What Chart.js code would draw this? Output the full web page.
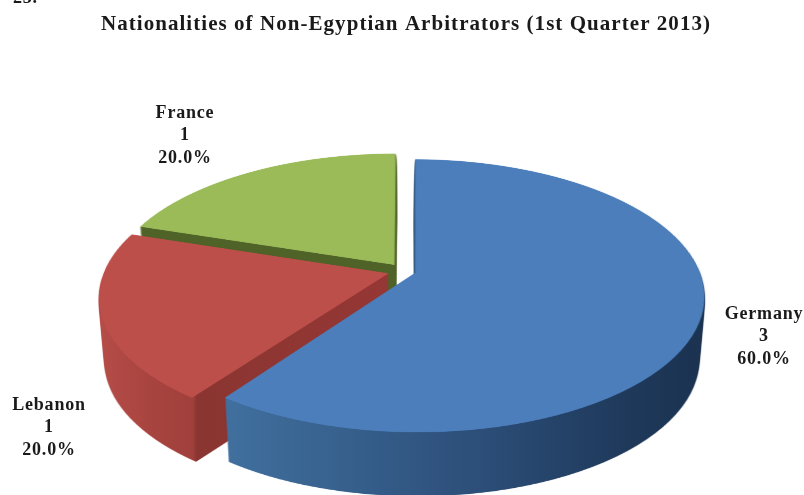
<!DOCTYPE html>
<html>
<head>
<meta charset="utf-8">
<style>html,body{margin:0;padding:0;background:#fff}canvas{display:block}</style>
<script src="https://cdn.jsdelivr.net/npm/chart.js@4"></script>
</head>
<body>
<canvas id="c" width="804" height="495"></canvas>
<script>
const categories = ["Germany", "Lebanon", "France"];
const counts = [3, 1, 1];
const explode = [35, 46, 46];
const topColors = ["#4c7ebb", "#bd4f4b", "#9bbb59"];
const titleText = "Nationalities of Non-Egyptian Arbitrators (1st Quarter 2013)";
const strayText = "23.";
const labelAnchors = [[764, 314], [49, 405], [185, 113]];

const sideStops = [
  [[220, "#41709f"], [330, "#38628f"], [480, "#2c4e78"], [620, "#1f3a5c"], [705, "#1b3250"]],
  [[100, "#b54c48"], [150, "#a8443f"], [193, "#a0403c"], [197, "#8a3531"], [390, "#953735"]],
  [[130, "#4f6228"], [400, "#4f6228"]]
];

// Perspective of the pie plane on screen
const view = {cx: 404, cy: 271, a: 284, b: 132, p: 0.169, depth: 64, taper: 0.0003, ss: 3};

function mk(w, h) { const c = document.createElement("canvas"); c.width = w; c.height = h; return c; }

const pie3d = {
  id: "pie3d",
  beforeDraw(chart) {
    chart.ctx.letterSpacing = "1.05px";
  },
  beforeDatasetsDraw(chart) {
    const arcs = chart.getDatasetMeta(0).data;
    const W = chart.width, H = chart.height, ctx = chart.ctx;
    const ss = view.ss;
    [2, 1, 0].forEach(i => {
      const arc = arcs[i];
      // Chart.js widens an offset arc; normalise so every slice has the same radius on screen
      const fix = 1 - Math.sin(Math.min(Math.PI, arc.circumference));
      const R = arc.outerRadius + (arc.options.offset || 0) / 4 * fix, m = 60;
      const half = Math.ceil((R + m) * ss);
      const flat = mk(half * 2, half * 2);
      const fc = flat.getContext("2d");
      fc.setTransform(ss, 0, 0, ss, half - arc.x * ss, half - arc.y * ss);
      arc.draw(fc);

      const top = mk(W, H), tc = top.getContext("2d");
      tc.imageSmoothingEnabled = true;
      tc.imageSmoothingQuality = "high";
      const vOf = Y => { const dy = Y - view.cy; return dy / (view.b + view.p * dy); };
      for (let Y = 0; Y < H; Y++) {
        const v0 = vOf(Y), v1 = vOf(Y + 1), vm = (v0 + v1) / 2;
        if (vm * R * ss < -half || vm * R * ss > half) continue;
        const kx = view.a / ((1 - view.p * vm) * R * ss);
        tc.drawImage(flat, 0, half + v0 * R * ss, half * 2, (v1 - v0) * R * ss,
                     view.cx - half * kx, Y, half * 2 * kx, 1);
      }

      const side = mk(W, H), sc = side.getContext("2d");
      for (let d = view.depth; d >= 1; d--) {
        const s = 1 - d * view.taper;
        sc.drawImage(top, view.cx * (1 - s), d, W * s, H);
      }
      const stops = sideStops[i];
      const x0 = stops[0][0], x1 = stops[stops.length - 1][0];
      const g = sc.createLinearGradient(x0, 0, x1, 0);
      stops.forEach(st => g.addColorStop((st[0] - x0) / (x1 - x0), st[1]));
      sc.globalCompositeOperation = "source-in";
      sc.fillStyle = g;
      sc.fillRect(0, 0, W, H);

      ctx.drawImage(side, 0, 0);
      ctx.drawImage(top, 0, 0);
    });
    return false;
  },
  afterDraw(chart) {
    const ctx = chart.ctx, total = counts.reduce((a, b) => a + b, 0);
    ctx.save();
    ctx.letterSpacing = "0.8px";
    ctx.fillStyle = "#1a1a1a";
    ctx.textAlign = "center";
    ctx.textBaseline = "middle";
    ctx.font = 'bold 18px "Liberation Serif"';
    categories.forEach((name, i) => {
      const [x, y] = labelAnchors[i];
      [name, String(counts[i]), (counts[i] / total * 100).toFixed(1) + "%"].forEach((t, k) => {
        ctx.fillText(t, x, y + k * 22.5);
      });
    });
    ctx.textAlign = "left";
    ctx.textBaseline = "alphabetic";
    ctx.font = 'bold 18px "Liberation Serif"';
    ctx.fillText(strayText, 13, 3);
    ctx.restore();
  }
};

new Chart(document.getElementById("c"), {
  type: "pie",
  data: {
    labels: categories,
    datasets: [{data: counts, backgroundColor: topColors, offset: explode, borderWidth: 0, hoverOffset: 0}]
  },
  options: {
    responsive: false,
    animation: false,
    layout: {padding: {left: 8, top: 0}},
    plugins: {
      legend: {display: false},
      tooltip: {enabled: false},
      title: {display: true, text: titleText, color: "#1a1a1a",
              font: {family: '"Liberation Serif"', size: 21, weight: "bold"},
              padding: {top: 12, bottom: 10}}
    }
  },
  plugins: [pie3d]
});
</script>
</body>
</html>
